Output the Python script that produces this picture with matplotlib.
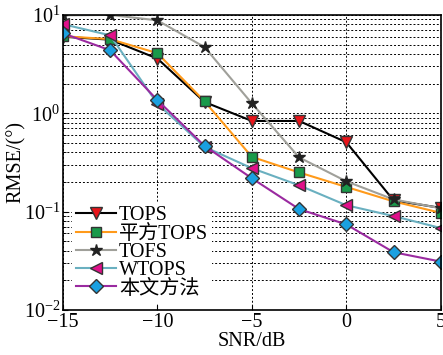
import matplotlib
matplotlib.use('Agg')
import matplotlib.pyplot as plt

plt.rcParams['font.family'] = ['Liberation Serif', 'Noto Sans CJK SC']
plt.rcParams['mathtext.fontset'] = 'custom'
plt.rcParams['mathtext.rm'] = 'Liberation Serif'
plt.rcParams['font.size'] = 14.5

snr = [-15, -12.5, -10, -7.5, -5, -2.5, 0, 2.5, 5]

tops = [6.0, 5.6, 3.6, 1.3, 0.835, 0.835, 0.507, 0.13, 0.109]
sq_tops = [6.07, 5.67, 4.08, 1.32, 0.36, 0.25, 0.178, 0.127, 0.097]
tofs = [9.9, 10.0, 8.8, 4.7, 1.26, 0.356, 0.203, 0.133, 0.108]
wtops = [8.05, 6.2, 1.25, 0.455, 0.276, 0.185, 0.116, 0.09, 0.068]
ours = [6.5, 4.37, 1.36, 0.465, 0.218, 0.106, 0.074, 0.0386, 0.031]

labels = ['TOPS', '平方TOPS', 'TOFS', 'WTOPS', '本文方法']

fig = plt.figure(figsize=(4.43, 3.55), dpi=100)
ax = fig.add_axes([0.142, 0.127, 0.853, 0.831])

ax.plot(snr, tops, color='black', lw=1.5, marker='v', ms=8.5,
        mfc='#e8141a', mec='#333333', label=labels[0])
ax.plot(snr, sq_tops, color='#ff9a1a', lw=1.5, marker='s', ms=7,
        mfc='#1a9a4a', mec='#333333', label=labels[1])
ax.plot(snr, tofs, color='#a0a09a', lw=1.5, marker='*', ms=9,
        mfc='#222222', mec='#222222', label=labels[2])
ax.plot(snr, wtops, color='#6ab0c0', lw=1.5, marker='<', ms=8.5,
        mfc='#e0108a', mec='#333333', label=labels[3])
ax.plot(snr, ours, color='#9a2aa0', lw=1.5, marker='D', ms=7,
        mfc='#1aa0e0', mec='#333333', label=labels[4])

ax.set_yscale('log')
ax.set_xlim(-15, 5)
ax.set_ylim(1e-2, 1e1)
ax.set_xticks([-15, -10, -5, 0, 5])
ax.set_xticklabels(['\u221215', '\u221210', '\u22125', '0', '5'])
ax.grid(True, which='major', axis='x', ls=(0, (2, 2)), color='black', lw=0.7)
ax.grid(True, which='both', axis='y', ls=(0, (2, 2)), color='black', lw=0.7)
ax.tick_params(direction='in', which='both', pad=2)
for sp in ax.spines.values():
    sp.set_linewidth(1.2)
ax.set_xlabel('SNR/dB', labelpad=0)
ax.set_ylabel('RMSE/(°)', labelpad=-2)

leg = ax.legend(loc='lower left', bbox_to_anchor=(0.023, 0.025), frameon=True,
                fancybox=False, edgecolor='none', framealpha=1,
                handlelength=2.0, labelspacing=-0.04, borderpad=0.2,
                handletextpad=0.15, borderaxespad=0, fontsize=14.5)

fig.savefig('out.png', dpi=100)
